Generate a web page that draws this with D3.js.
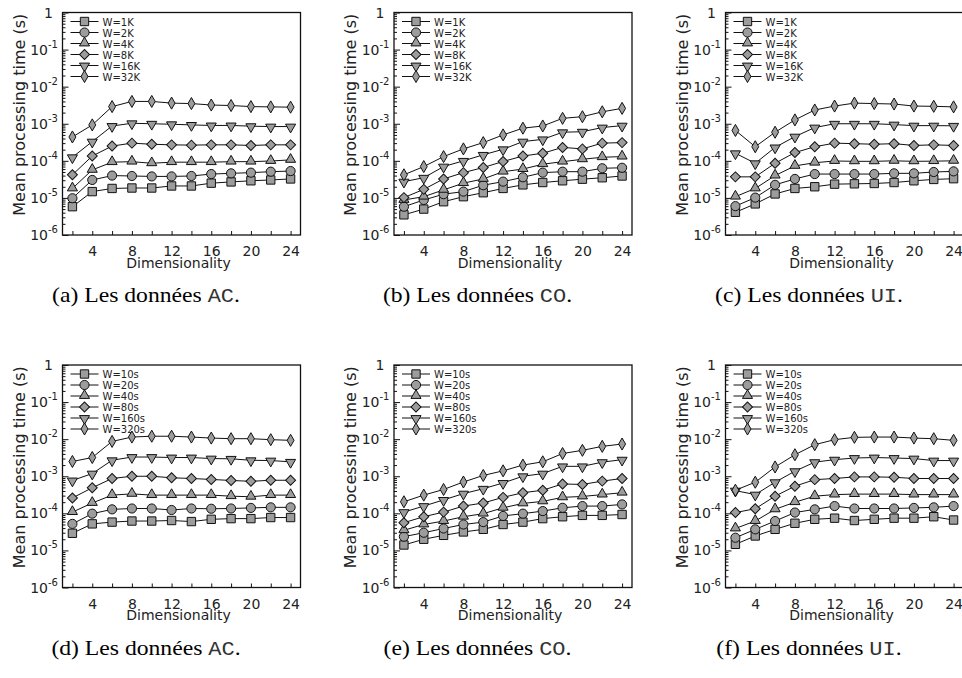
<!DOCTYPE html>
<html lang="en">
<head>
<meta charset="utf-8">
<title>Mean processing time vs dimensionality</title>
<script src="https://cdn.jsdelivr.net/npm/d3@7"></script>
<style>
  body { margin: 0; background: #fff; }
  svg { display: block; }
  .axis text { font-family: "DejaVu Sans", sans-serif; font-size: 14px; fill: #222; }
  .axis line { stroke: #111; }
  .axis path { display: none; }
  .ylab { font-family: "DejaVu Sans", sans-serif; font-size: 14px; fill: #222; }
  .title { font-family: "DejaVu Sans", sans-serif; fill: #222; }
  .legend text { font-family: "DejaVu Sans", sans-serif; font-size: 10px; fill: #222; }
  .caption { font-family: "Liberation Serif", "Times New Roman", serif; font-size: 21.5px; fill: #000; }
</style>
</head>
<body>
<script>

// x values
var dims = [2, 4, 6, 8, 10, 12, 14, 16, 18, 20, 22, 24];
var decades = [1e-6, 1e-5, 1e-4, 1e-3, 1e-2, 1e-1, 1];

var countLabels = ["W=1K", "W=2K", "W=4K", "W=8K", "W=16K", "W=32K"];
var timeLabels = ["W=10s", "W=20s", "W=40s", "W=80s", "W=160s", "W=320s"];

var captionLetters = ["(a)", "(b)", "(c)", "(d)", "(e)", "(f)"];
var datasetNames = ["AC", "CO", "UI", "AC", "CO", "UI"];

// mean processing time (s), one row per window size
var acCount = [
  [5.8e-6, 1.48e-5, 1.8e-5, 1.85e-5, 1.85e-5, 2.1e-5, 2.1e-5, 2.5e-5, 2.7e-5, 2.9e-5, 3.05e-5, 3.25e-5],
  [9.8e-6, 3.05e-5, 4.0e-5, 3.9e-5, 3.8e-5, 3.8e-5, 3.9e-5, 4.4e-5, 4.6e-5, 4.8e-5, 5.1e-5, 5.3e-5],
  [1.8e-5, 5.7e-5, 9.2e-5, 9.5e-5, 8.6e-5, 9.2e-5, 9.2e-5, 9.2e-5, 9.5e-5, 9.5e-5, 9.9e-5, 1.06e-4],
  [4.2e-5, 1.35e-4, 2.5e-4, 3.0e-4, 2.8e-4, 2.7e-4, 2.65e-4, 2.7e-4, 2.7e-4, 2.6e-4, 2.7e-4, 2.7e-4],
  [1.25e-4, 3.3e-4, 8.7e-4, 1.03e-3, 1.0e-3, 9.7e-4, 9.3e-4, 9.0e-4, 9.0e-4, 8.6e-4, 8.4e-4, 8.4e-4],
  [4.4e-4, 9.3e-4, 2.9e-3, 4.0e-3, 4.0e-3, 3.6e-3, 3.5e-3, 3.2e-3, 3.1e-3, 2.9e-3, 2.85e-3, 2.8e-3]
];
var coCount = [
  [3.5e-6, 5.0e-6, 7.9e-6, 1.08e-5, 1.38e-5, 1.8e-5, 2.25e-5, 2.6e-5, 2.9e-5, 3.2e-5, 3.5e-5, 3.9e-5],
  [5.8e-6, 8.8e-6, 1.26e-5, 1.48e-5, 2.2e-5, 2.75e-5, 3.6e-5, 4.8e-5, 5.1e-5, 5.1e-5, 6.3e-5, 6.5e-5],
  [8.8e-6, 1.08e-5, 1.65e-5, 2.5e-5, 3.25e-5, 5.1e-5, 6.0e-5, 8.1e-5, 9.5e-5, 1.1e-4, 1.25e-4, 1.3e-4],
  [1.02e-5, 1.7e-5, 3.25e-5, 4.8e-5, 6.6e-5, 9.6e-5, 1.35e-4, 1.6e-4, 2.3e-4, 2.1e-4, 3.0e-4, 3.1e-4],
  [2.75e-5, 3.5e-5, 7.0e-5, 1.0e-4, 1.45e-4, 2.05e-4, 3.3e-4, 3.8e-4, 5.9e-4, 6.1e-4, 7.9e-4, 8.9e-4],
  [4.2e-5, 7.0e-5, 1.3e-4, 2.1e-4, 3.1e-4, 5.0e-4, 7.6e-4, 8.7e-4, 1.4e-3, 1.55e-3, 2.1e-3, 2.6e-3]
];
var uiCount = [
  [4.1e-6, 6.9e-6, 1.28e-5, 1.8e-5, 2.0e-5, 2.35e-5, 2.4e-5, 2.45e-5, 2.6e-5, 2.9e-5, 3.15e-5, 3.3e-5],
  [6.0e-6, 1.02e-5, 2.25e-5, 3.25e-5, 4.4e-5, 4.4e-5, 4.4e-5, 4.4e-5, 4.6e-5, 4.6e-5, 5.0e-5, 5.2e-5],
  [1.08e-5, 1.8e-5, 4.0e-5, 7.3e-5, 8.9e-5, 9.9e-5, 9.7e-5, 9.7e-5, 1.0e-4, 9.7e-5, 9.8e-5, 1.0e-4],
  [3.7e-5, 3.7e-5, 8.6e-5, 1.67e-4, 2.4e-4, 3.0e-4, 2.9e-4, 2.8e-4, 2.9e-4, 2.6e-4, 2.7e-4, 2.6e-4],
  [1.6e-4, 8.6e-5, 2.3e-4, 4.5e-4, 7.9e-4, 1.0e-3, 1.0e-3, 1.0e-3, 9.5e-4, 8.9e-4, 8.9e-4, 8.8e-4],
  [6.6e-4, 2.4e-4, 5.9e-4, 1.27e-3, 2.35e-3, 3.0e-3, 3.6e-3, 3.5e-3, 3.4e-3, 3.0e-3, 2.95e-3, 2.85e-3]
];
var acTime = [
  [2.9e-5, 5.2e-5, 5.8e-5, 6.2e-5, 6.2e-5, 6.4e-5, 6.0e-5, 6.9e-5, 7.2e-5, 7.2e-5, 7.7e-5, 7.7e-5],
  [5.2e-5, 9.8e-5, 1.28e-4, 1.35e-4, 1.35e-4, 1.23e-4, 1.35e-4, 1.33e-4, 1.35e-4, 1.4e-4, 1.45e-4, 1.45e-4],
  [1.08e-4, 1.9e-4, 3.1e-4, 3.35e-4, 3.1e-4, 3.1e-4, 3.1e-4, 3.1e-4, 2.9e-4, 2.8e-4, 3.1e-4, 3.1e-4],
  [2.6e-4, 4.9e-4, 8.7e-4, 1.0e-3, 1.0e-3, 9.1e-4, 8.7e-4, 8.2e-4, 7.7e-4, 7.3e-4, 7.8e-4, 7.8e-4],
  [7.7e-4, 1.18e-3, 2.7e-3, 3.3e-3, 3.3e-3, 3.2e-3, 3.2e-3, 3.0e-3, 2.95e-3, 2.7e-3, 2.65e-3, 2.45e-3],
  [2.5e-3, 3.2e-3, 8.7e-3, 1.14e-2, 1.2e-2, 1.2e-2, 1.14e-2, 1.07e-2, 1.03e-2, 1.03e-2, 9.7e-3, 9.3e-3]
];
var coTime = [
  [1.4e-5, 2.0e-5, 2.55e-5, 3.15e-5, 3.7e-5, 5.0e-5, 5.8e-5, 7.2e-5, 8.1e-5, 8.8e-5, 8.8e-5, 9.3e-5],
  [2.35e-5, 3.0e-5, 3.9e-5, 5.0e-5, 5.8e-5, 8.5e-5, 9.8e-5, 1.15e-4, 1.41e-4, 1.57e-4, 1.57e-4, 1.74e-4],
  [3.5e-5, 5.0e-5, 6.2e-5, 8.1e-5, 9.8e-5, 1.41e-4, 1.85e-4, 2.1e-4, 2.7e-4, 2.85e-4, 3.2e-4, 3.6e-4],
  [5.6e-5, 8.1e-5, 1.08e-4, 1.57e-4, 1.9e-4, 2.7e-4, 3.6e-4, 4.2e-4, 6.2e-4, 6.0e-4, 7.4e-4, 8.7e-4],
  [1.08e-4, 1.57e-4, 2.3e-4, 3.4e-4, 4.6e-4, 6.6e-4, 1.0e-3, 1.18e-3, 1.85e-3, 1.85e-3, 2.4e-3, 2.8e-3],
  [2.05e-4, 3.1e-4, 4.4e-4, 7.0e-4, 1.05e-3, 1.4e-3, 2.0e-3, 2.45e-3, 4.1e-3, 5.0e-3, 6.4e-3, 7.4e-3]
];
var uiTime = [
  [1.46e-5, 2.45e-5, 3.7e-5, 5.4e-5, 6.9e-5, 7.4e-5, 6.4e-5, 6.9e-5, 7.4e-5, 7.4e-5, 8.1e-5, 6.6e-5],
  [2.2e-5, 3.7e-5, 6.2e-5, 1.05e-4, 1.28e-4, 1.57e-4, 1.35e-4, 1.35e-4, 1.35e-4, 1.4e-4, 1.45e-4, 1.57e-4],
  [3.9e-5, 6.2e-5, 1.28e-4, 2.0e-4, 2.9e-4, 3.2e-4, 3.3e-4, 3.3e-4, 3.3e-4, 3.2e-4, 3.2e-4, 3.2e-4],
  [1.05e-4, 1.33e-4, 2.9e-4, 5.4e-4, 8.1e-4, 8.7e-4, 9.6e-4, 9.6e-4, 9.4e-4, 8.7e-4, 8.7e-4, 8.7e-4],
  [4.1e-4, 3.2e-4, 6.9e-4, 1.37e-3, 2.4e-3, 2.8e-3, 3.1e-3, 3.2e-3, 3.1e-3, 3.0e-3, 2.65e-3, 2.65e-3],
  [4.2e-4, 6.9e-4, 1.78e-3, 3.8e-3, 7.1e-3, 9.7e-3, 1.12e-2, 1.14e-2, 1.14e-2, 1.07e-2, 1.03e-2, 9.3e-3]
];

var panels = [
  {data: acCount, labels: countLabels},
  {data: coCount, labels: countLabels},
  {data: uiCount, labels: countLabels},
  {data: acTime, labels: timeLabels},
  {data: coTime, labels: timeLabels},
  {data: uiTime, labels: timeLabels}
];

var W = 962, H = 678;
var pw = 238, ph = 222.5;
var colX = [62.5, 394, 725.5];
var rowY = [12.5, 365];

var x = d3.scaleLinear().domain([1, 25]).range([0, pw]);
var y = d3.scaleLog().domain([1e-6, 1]).range([ph, 0]);

//marker shapes, by series index
var markerFill = "#9c9c9c";
function marker(sel, i) {
  var p;
  if (i == 0) p = sel.append("path").attr("d", d3.symbol(d3.symbolSquare, 70)());
  else if (i == 1) p = sel.append("path").attr("d", d3.symbol(d3.symbolCircle, 66)());
  else if (i == 2) p = sel.append("path").attr("d", d3.symbol(d3.symbolTriangle, 44)()).attr("transform", "translate(0,-0.5)");
  else if (i == 3) p = sel.append("path").attr("d", d3.symbol(d3.symbolSquare, 50)()).attr("transform", "rotate(45)");
  else if (i == 4) p = sel.append("path").attr("d", d3.symbol(d3.symbolTriangle, 44)()).attr("transform", "rotate(180) translate(0,-0.5)");
  else p = sel.append("path").attr("d", d3.symbol(d3.symbolDiamond, 42)());
  p.attr("fill", markerFill).attr("stroke", "#111").attr("stroke-width", 1);
}

var svg = d3.select("body").append("svg")
  .attr("width", W)
  .attr("height", H);

var line = d3.line()
  .x(function (d, i) { return x(dims[i]); })
  .y(function (d) { return y(d); });

var minors = [];
decades.slice(0, -1).forEach(function (d) {
  for (var k = 2; k <= 9; k++) minors.push(d * k);
});

panels.forEach(function (pan, p) {
  var col = p % 3, row = Math.floor(p / 3);
  var g = svg.append("g").attr("transform", "translate(" + colX[col] + "," + rowY[row] + ")");

  //y ticks (inward)
  g.append("g").attr("class", "axis")
    .call(d3.axisLeft(y).tickValues(minors).tickSizeInner(-3).tickSizeOuter(0).tickFormat(""));
  g.append("g").attr("class", "axis")
    .call(d3.axisLeft(y).tickValues(decades).tickSizeInner(-6).tickSizeOuter(0).tickFormat(""));

  //y tick labels with superscript exponents
  decades.forEach(function (d) {
    var e = Math.round(Math.log10(d));
    var t = g.append("text").attr("class", "ylab")
      .attr("text-anchor", "end")
      .attr("x", e == 0 ? -9.5 : -4.5)
      .attr("y", y(d) + 5);
    if (e == 0) {
      t.text("1");
    } else {
      t.append("tspan").text("10");
      t.append("tspan").attr("dy", -7).attr("font-size", "10px").text("-" + (-e));
    }
  });

  //x ticks
  g.append("g").attr("class", "axis")
    .attr("transform", "translate(0," + ph + ")")
    .call(d3.axisBottom(x).tickValues(dims).tickSizeInner(-4).tickSizeOuter(0).tickPadding(11.5)
      .tickFormat(function (d) { return d % 4 == 0 ? d : ""; }));

  //frame
  g.append("rect")
    .attr("width", pw).attr("height", ph)
    .attr("fill", "none").attr("stroke", "#111").attr("stroke-width", 1.3);

  //axis titles
  g.append("text").attr("class", "title")
    .attr("font-size", "16px")
    .attr("text-anchor", "middle")
    .attr("transform", "translate(-38," + (ph / 2 - 9) + ") rotate(-90)")
    .text("Mean processing time (s)");
  g.append("text").attr("class", "title")
    .attr("font-size", "14px")
    .attr("text-anchor", "middle")
    .attr("x", pw / 2 - 3)
    .attr("y", ph + 32.5)
    .text("Dimensionality");

  //legend
  var lg = g.append("g").attr("class", "legend");
  pan.labels.forEach(function (lab, i) {
    var ly = 9 + i * 11;
    lg.append("line").attr("x1", 8).attr("x2", 36).attr("y1", ly).attr("y2", ly)
      .attr("stroke", "#111").attr("stroke-width", 1);
    var m = lg.append("g").attr("transform", "translate(22," + ly + ")");
    marker(m, i);
    lg.append("text").attr("x", 40).attr("y", ly + 4).text(lab);
  });

  //series
  pan.data.forEach(function (vals, i) {
    g.append("path")
      .attr("d", line(vals))
      .attr("fill", "none")
      .attr("stroke", "#111")
      .attr("stroke-width", 1);
    vals.forEach(function (v, j) {
      var m = g.append("g").attr("transform", "translate(" + x(dims[j]) + "," + y(v) + ")");
      marker(m, i);
    });
  });

  //caption (slightly widened, like the scanned figure)
  var cap = svg.append("text").attr("class", "caption")
    .attr("text-anchor", "middle")
    .attr("transform", "translate(" + (146 + col * 331.5) + "," + (302 + row * 352.5) + ") scale(1.1,1)");
  cap.append("tspan").text(captionLetters[p] + " Les données ");
  cap.append("tspan").attr("font-family", "'Liberation Mono', 'Courier New', monospace").attr("font-size", "20px").attr("fill", "#333").text(datasetNames[p]);
  cap.append("tspan").text(".");
});

</script>
</body>
</html>
